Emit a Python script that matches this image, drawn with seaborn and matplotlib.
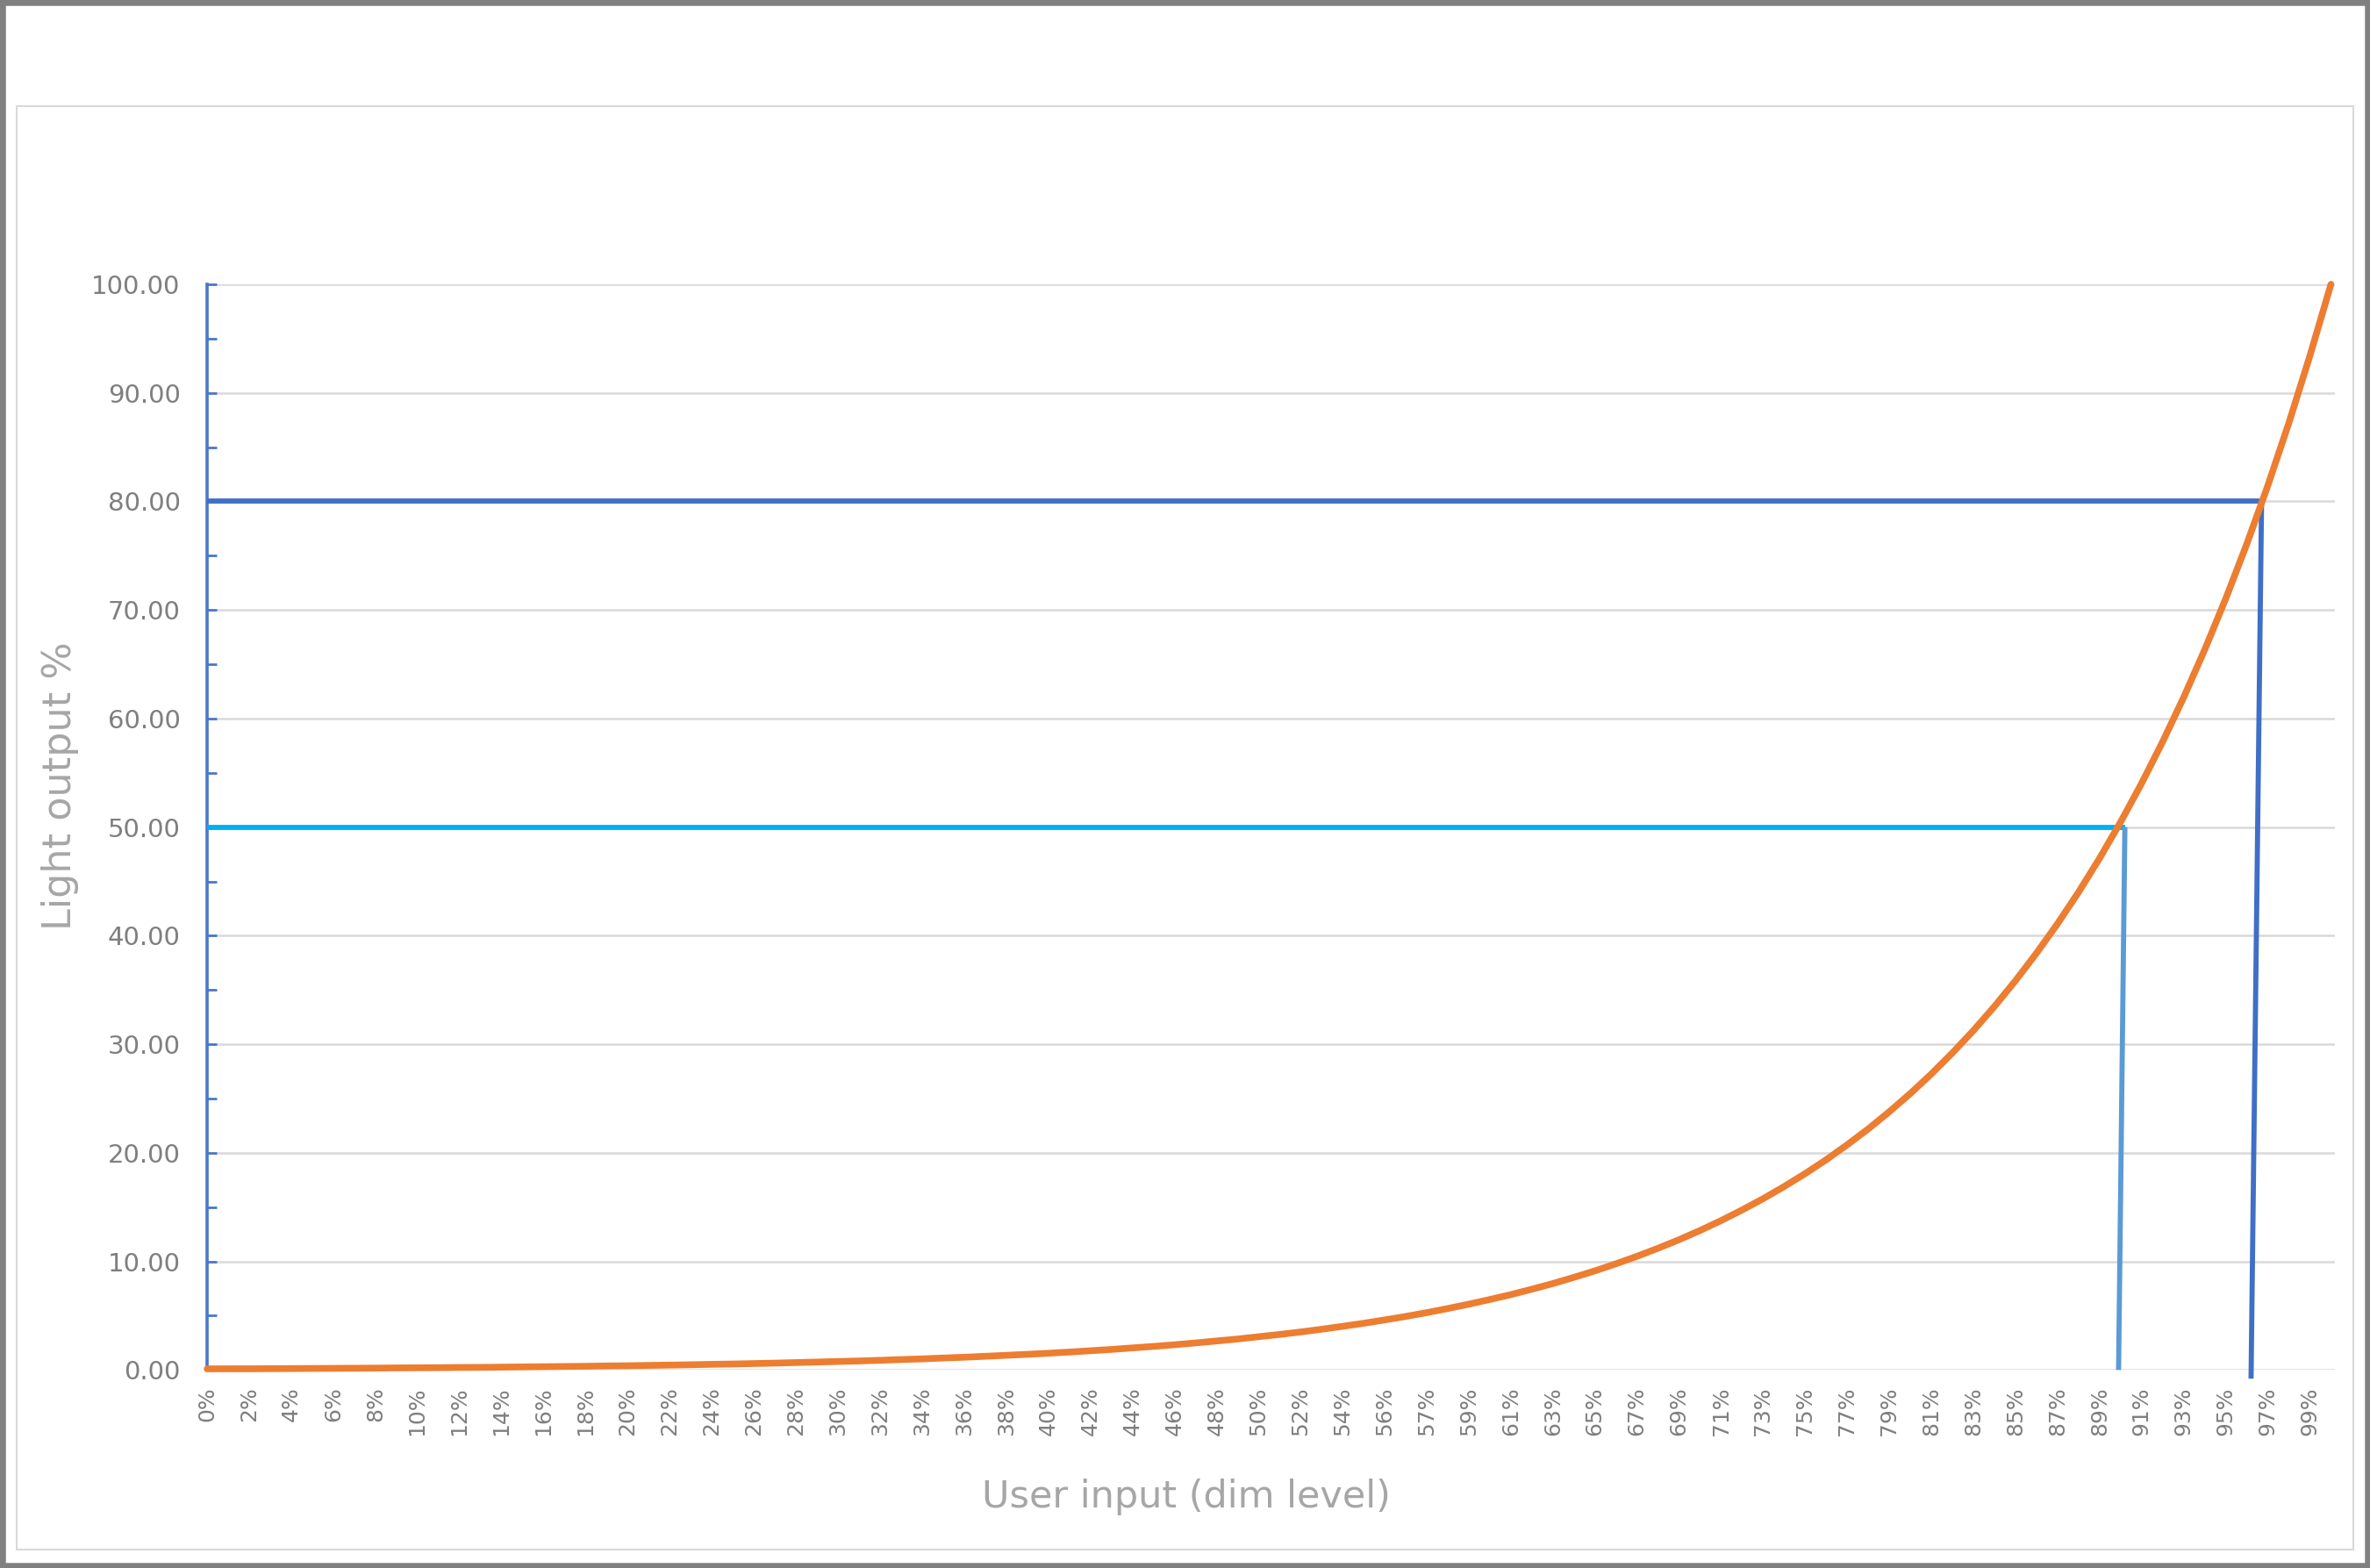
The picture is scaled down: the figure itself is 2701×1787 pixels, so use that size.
import numpy as np
import pandas as pd
import matplotlib.pyplot as plt
from matplotlib.patches import Rectangle
from matplotlib.ticker import MultipleLocator, FormatStrFormatter
import seaborn as sns

# Light output (%) for each dim step (102 steps)
light_output = [
    0.10, 0.11, 0.11, 0.12, 0.13, 0.14, 0.15, 0.16, 0.17, 0.19,
    0.20, 0.21, 0.23, 0.24, 0.26, 0.28, 0.30, 0.32, 0.34, 0.37,
    0.39, 0.42, 0.45, 0.48, 0.52, 0.55, 0.59, 0.63, 0.68, 0.73,
    0.78, 0.83, 0.89, 0.96, 1.02, 1.10, 1.17, 1.26, 1.35, 1.44,
    1.54, 1.65, 1.77, 1.89, 2.03, 2.17, 2.32, 2.49, 2.67, 2.85,
    3.06, 3.27, 3.50, 3.75, 4.02, 4.30, 4.61, 4.93, 5.28, 5.66,
    6.06, 6.49, 6.94, 7.44, 7.96, 8.53, 9.13, 9.78, 10.47, 11.21,
    12.00, 12.85, 13.76, 14.74, 15.78, 16.90, 18.09, 19.37, 20.75, 22.21,
    23.79, 25.47, 27.27, 29.21, 31.27, 33.49, 35.86, 38.40, 41.11, 44.02,
    47.14, 50.48, 54.05, 57.88, 61.97, 66.36, 71.06, 76.09, 81.47, 87.24,
    93.42, 100.00,
]

# every second category is labelled on the axis
x_tick_labels = [
    "0%", "2%", "4%", "6%", "8%", "10%", "12%", "14%", "16%", "18%",
    "20%", "22%", "24%", "26%", "28%", "30%", "32%", "34%", "36%", "38%",
    "40%", "42%", "44%", "46%", "48%", "50%", "52%", "54%", "56%", "57%",
    "59%", "61%", "63%", "65%", "67%", "69%", "71%", "73%", "75%", "77%",
    "79%", "81%", "83%", "85%", "87%", "89%", "91%", "93%", "95%", "97%",
    "99%",
]

# guide lines: target output and the dim step where the curve reaches it
guide_levels = [50, 80]
guide_x_top = [91.2, 97.7]
guide_x_bottom = [90.9, 97.2]
guide_y_bottom = [0, -0.8]
guide_h_colors = ["#00B0F0", "#3F6FC6"]
guide_v_colors = ["#5B9BD5", "#3F6FC6"]

ORANGE = "#ED7D31"
AXIS_BLUE = "#4A78C8"
GRID = "#D9D9D9"
TICK_GREY = "#7F7F7F"
LABEL_GREY = "#A6A6A6"

df = pd.DataFrame({"step": np.arange(len(light_output)), "output": light_output})

sns.set_theme(style="white")
plt.rcParams["font.family"] = ["DejaVu Sans"]

fig = plt.figure(figsize=(27.01, 17.87), dpi=100)
ax = fig.add_axes([0.0874, 0.1263, 0.8979, 0.6924])

# gridlines first so the lines sit on top
ax.set_ylim(0, 100)
ax.set_xlim(0, 101.2)
ax.yaxis.set_major_locator(MultipleLocator(10))
ax.yaxis.set_minor_locator(MultipleLocator(5))
ax.yaxis.set_major_formatter(FormatStrFormatter("%.2f"))
ax.yaxis.grid(True, which="major", color=GRID, lw=1.8)
ax.xaxis.grid(False)
ax.set_axisbelow(True)

sns.lineplot(data=df, x="step", y="output", color=ORANGE, lw=5.5, ax=ax,
             clip_on=False, zorder=4)

for lvl, xt, xb, yb, ch, cv in zip(guide_levels, guide_x_top, guide_x_bottom,
                                   guide_y_bottom, guide_h_colors, guide_v_colors):
    ax.plot([0, xt], [lvl, lvl], color=ch, lw=4.2, clip_on=False, zorder=3,
            solid_capstyle="butt")
    ax.plot([xb, xt], [yb, lvl], color=cv, lw=4.2, clip_on=False, zorder=3,
            solid_capstyle="butt")

ax.set_xticks(np.arange(0, len(light_output) - 1, 2))
ax.set_xticklabels(x_tick_labels, rotation=90, fontsize=18, color=TICK_GREY)
ax.tick_params(axis="x", bottom=False, length=0, pad=14)
ax.tick_params(axis="y", which="both", left=True, direction="in", length=8, width=2,
               color=AXIS_BLUE, labelsize=21, labelcolor=TICK_GREY, pad=22)
ax.tick_params(axis="y", which="minor", labelleft=False)

for side in ["top", "right", "bottom"]:
    ax.spines[side].set_visible(False)
ax.spines["left"].set_color(AXIS_BLUE)
ax.spines["left"].set_linewidth(2.6)

ax.set_xlabel("User input (dim level)", fontsize=31, color=LABEL_GREY)
ax.set_ylabel("Light output %", fontsize=32, color=LABEL_GREY)
ax.xaxis.set_label_coords(0.46, -0.117)
ax.xaxis.label.set_va("center")
ax.yaxis.set_label_coords(-0.069, 0.538)
ax.yaxis.label.set_va("center")

# chart area border and the screenshot frame
fig.patches.append(Rectangle((0.007, 0.0116), 0.986, 0.9209, transform=fig.transFigure,
                             fill=False, edgecolor=GRID, lw=1.5))
fig.patches.append(Rectangle((0.0, 0.0), 1.0, 1.0, transform=fig.transFigure,
                             fill=False, edgecolor="#808080", lw=9))

fig.savefig("out.png", dpi=100, facecolor="white")
